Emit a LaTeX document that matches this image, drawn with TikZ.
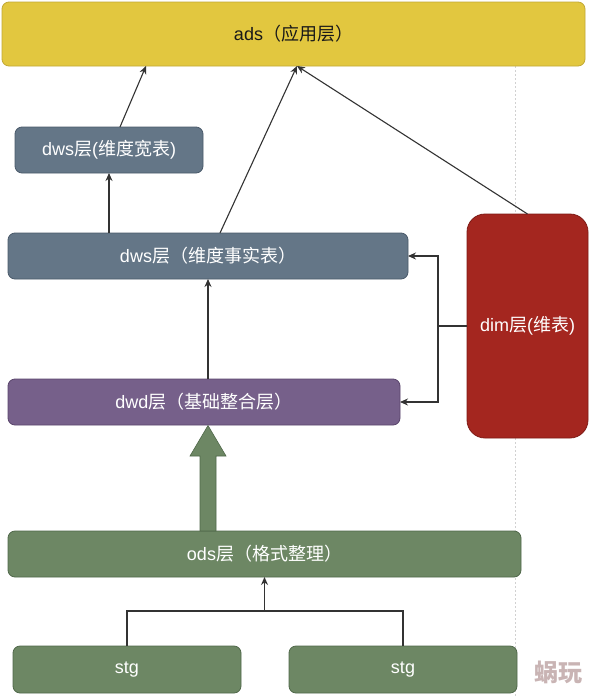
\documentclass[tikz,border=0pt]{standalone}
\usepackage{fontspec}
\setmainfont{Liberation Sans}
\newfontfamily\cjk{Noto Sans CJK SC}
\usetikzlibrary{arrows.meta,calc}
\definecolor{adsfill}{HTML}{E2C73F}
\definecolor{adsline}{HTML}{C2A935}
\definecolor{dwsfill}{HTML}{647687}
\definecolor{dwsline}{HTML}{4A5A6A}
\definecolor{dwdfill}{HTML}{76608A}
\definecolor{dwdline}{HTML}{5A456C}
\definecolor{dimfill}{HTML}{A4261F}
\definecolor{dimline}{HTML}{7E1A15}
\definecolor{grnfill}{HTML}{6D8764}
\definecolor{grnline}{HTML}{50684A}
\definecolor{conn}{HTML}{333333}
\definecolor{wmcol}{HTML}{C9B4B4}
\tikzset{
  layer/.style={rectangle, rounded corners=7pt, inner sep=0pt, outer sep=0pt, line width=0.8pt, font=\fontsize{18}{21}\selectfont, text=white},
  arr/.style={draw=conn, line width=1.1pt, -{Stealth[length=8pt,width=7pt]}},
  plain/.style={draw=conn, line width=1.1pt},
}
\begin{document}
\begin{tikzpicture}[x=1pt,y=-1pt]
\useasboundingbox[fill=white] (0,0) rectangle (594,696);
% dotted guide
\draw[draw=black!18, line width=0.8pt, dash pattern=on 2pt off 2pt] (515,66) -- (515,696);
% nodes
\node[layer, fill=adsfill, draw=adsline, text=black!90, minimum width=583pt, minimum height=64pt] (ads) at (293.5,34) {ads{\cjk （应用层）}};
\node[layer, fill=dwsfill, draw=dwsline, minimum width=188pt, minimum height=46pt] (dwsw) at (109,150) {dws{\cjk 层}({\cjk 维度宽表})};
\node[layer, fill=dwsfill, draw=dwsline, minimum width=400pt, minimum height=46pt] (dwsf) at (208,256) {dws{\cjk 层（维度事实表）}};
\node[layer, fill=dwdfill, draw=dwdline, minimum width=392pt, minimum height=46pt] (dwd) at (204,402) {dwd{\cjk 层（基础整合层）}};
\node[layer, rounded corners=18pt, fill=dimfill, draw=dimline, minimum width=121pt, minimum height=224pt] (dim) at (527.5,326) {dim{\cjk 层}({\cjk 维表})};
\node[layer, fill=grnfill, draw=grnline, minimum width=513pt, minimum height=46pt] (ods) at (264.5,554) {ods{\cjk 层（格式整理）}};
\node[layer, fill=grnfill, draw=grnline, minimum width=228pt, minimum height=47pt] (stg1) at (127,669.5) {stg};
\node[layer, fill=grnfill, draw=grnline, minimum width=228pt, minimum height=47pt] (stg2) at (403,669.5) {stg};
% connectors to ads
\draw[arr] ($(dwsw.north)+(11,0)$) -- ($(ads.south)+(-147.5,0)$);
\draw[arr] ($(dwsf.north)+(12,0)$) -- ($(ads.south)+(3.5,0)$);
\draw[arr] (dim.north) -- ($(ads.south)+(3.5,0)$);
% dws fact -> dws wide
\draw[arr] (dwsw.south |- dwsf.north) -- (dwsw.south);
% dwd -> dws fact
\draw[arr] (dwsf.south |- dwd.north) -- (dwsf.south);
% dim -> dws fact, dwd
\draw[plain] (dim.west) -- ++(-29,0) coordinate (jd);
\draw[arr] (jd) |- (dwsf.east);
\draw[arr] (jd) |- (dwd.east);
% big arrow ods -> dwd
\filldraw[fill=grnfill, draw=grnline, line width=0.6pt]
  (200,531) -- (200,456) -- (190,456) -- (208,425.5) -- (226,456) -- (216,456) -- (216,531) -- cycle;
% stg -> ods
\draw[plain] (stg1.north) -- ++(0,-35) coordinate (js) -| (stg2.north);
\draw[arr] (ods.south |- js) -- (ods.south);
% watermark
\node[text=wmcol, font=\cjk\bfseries\fontsize{24}{26}\selectfont, inner sep=0pt] (wm) at (558,672) {蜗玩};
\end{tikzpicture}
\end{document}
